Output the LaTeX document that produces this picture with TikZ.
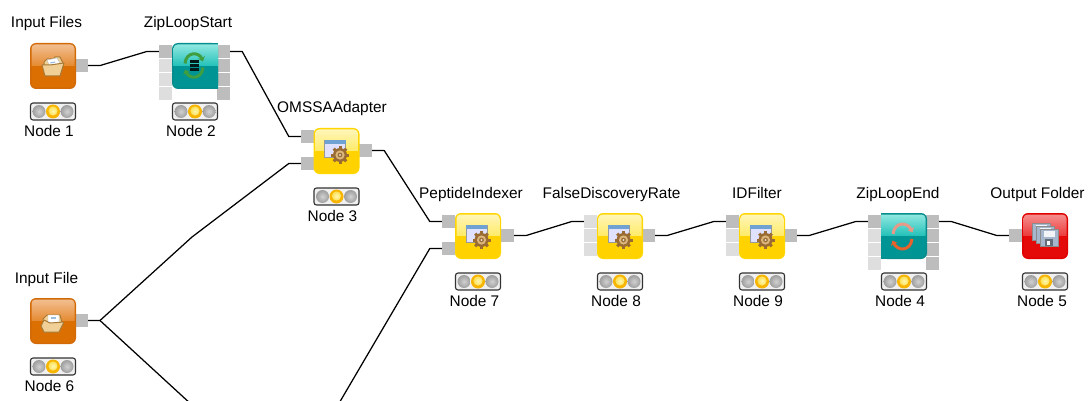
\documentclass[tikz,border=0pt]{standalone}
\usepackage{fontspec}
\setmainfont{Liberation Sans}
\usetikzlibrary{calc,arrows.meta}
\definecolor{orangeE}{HTML}{D26A08}\definecolor{orangeT}{HTML}{F2BE90}\definecolor{orangeM}{HTML}{E58A30}\definecolor{orangeB}{HTML}{DC6F02}
\definecolor{yellowE}{HTML}{FFD600}\definecolor{yellowT}{HTML}{FFF6B8}\definecolor{yellowM}{HTML}{FFEA66}\definecolor{yellowB}{HTML}{FFD200}
\definecolor{redE}{HTML}{E00000}\definecolor{redT}{HTML}{F58E8E}\definecolor{redM}{HTML}{EC3A3A}\definecolor{redB}{HTML}{E40A0A}
\definecolor{tealE}{HTML}{078D8D}\definecolor{tealT}{HTML}{8FE8E0}\definecolor{tealM}{HTML}{22C0B8}\definecolor{tealB}{HTML}{009494}
\definecolor{portdark}{HTML}{BDBDBD}\definecolor{portpale}{HTML}{DEDEDE}
\definecolor{foldline}{HTML}{A87A38}\definecolor{foldfill}{HTML}{F0D096}
\definecolor{gearc}{HTML}{9A6C34}\definecolor{winblue}{HTML}{6FA2D2}\definecolor{floppy}{HTML}{A6B6CC}
\definecolor{loopgreen}{HTML}{3F9E3F}\definecolor{looppale}{HTML}{E89A88}\definecolor{looporange}{HTML}{E8622C}
\definecolor{lampring}{HTML}{F7B500}\definecolor{lampcore}{HTML}{FFF27A}
\tikzset{
  x=1pt,y=-1pt,
  kport/.style={rectangle,minimum width=13pt,minimum height=13pt,inner sep=0pt,fill=portdark},
  kpale/.style={kport,fill=portpale},
  kwire/.style={draw=black,line width=1.25pt,line join=round},
  kbody/.style={rectangle,rounded corners=6pt,minimum width=46pt,minimum height=46pt,inner sep=0pt},
  ktext/.style={anchor=base,inner sep=0pt,font=\fontsize{15.4}{18}\selectfont,text=black},
  kstatus/.style={rectangle,rounded corners=2.5pt,minimum width=45pt,minimum height=17pt,inner sep=0pt,draw=black!80,line width=1.1pt,fill=black!6},
  kfold/.style={draw=foldline,line width=1pt,fill=foldfill,line join=round},
  kbar/.style={line width=3pt,line cap=butt},
  karc/.style={line width=3pt,-{Stealth[length=4.5pt,width=7.5pt]}}
}
% name, cx, cy, palette, title x, title, label x, label
\newcommand\kparts[8]{%
  \node[ktext] (#1-title) at (#5,#3-38) {#6};
  \node[ktext] (#1-label) at (#7,#3+70.5) {#8};
  \node[kstatus] (#1-light) at (#2,#3+45.5) {};
  \shade[inner color=black!18,outer color=black!38] (#2-14,#3+45.5) circle (6.5);
  \shade[inner color=black!18,outer color=black!38] (#2+14,#3+45.5) circle (6.5);
  \fill[lampring] (#2,#3+45.5) circle (7);
  \shade[inner color=lampcore!60!white,outer color=lampcore!70!lampring] (#2,#3+45) circle (4.6);
}
\newcommand\kbodyround[4]{%
  \node[kbody,fill=#4E] (#1) at (#2,#3) {};
  \shade[top color=#4T,bottom color=#4M] (#2-21.5,#3) [rounded corners=4pt] -- (#2-21.5,#3-21.5) -- (#2+21.5,#3-21.5) [sharp corners] -- (#2+21.5,#3) -- cycle;
  \fill[#4B] (#2-21.5,#3) rectangle (#2+21.5,#3+6);
  \fill[#4B,rounded corners=4pt] (#2-21.5,#3+2) rectangle (#2+21.5,#3+21.5);
}
% loop bodies: side = -1 keeps round corners on the left, +1 on the right
\newcommand\kbodyloop[4]{%
  \node[kbody,fill=tealE] (#1) at (#2,#3) {};
  \fill[tealE] (#2,#3-23) rectangle (#2-#4*23,#3+23);
  \shade[top color=tealT,bottom color=tealM] (#2-#4*23,#3) -- (#2-#4*23,#3-21.5) [rounded corners=4pt] -- (#2+#4*21.5,#3-21.5) [sharp corners] -- (#2+#4*21.5,#3) -- cycle;
  \fill[tealB] (#2-#4*23,#3) rectangle (#2+#4*21.5,#3+6);
  \fill[tealB] (#2-#4*23,#3+2) [rounded corners=4pt] -- (#2+#4*21.5,#3+2) -- (#2+#4*21.5,#3+21.5) [sharp corners] -- (#2-#4*23,#3+21.5) -- cycle;
}
\newcommand\kgear[2]{%
  \begin{scope}[shift={(#1,#2)}]
    \filldraw[draw=black!40,fill=white!88!blue,line width=0.6pt] (-12,-11) rectangle (9,6);
    \fill[winblue] (-12,-11) rectangle (9,-7.5);
    \foreach \a in {0,45,...,315}{\fill[gearc,rotate around={\a:(3.5,4)}] (2,-5) rectangle (5,-2);}
    \fill[gearc] (3.5,4) circle (7);
    \fill[foldfill!75!gearc] (3.5,4) circle (4.6);
    \fill[gearc] (3.5,4) circle (2.4);
    \fill[white!75!gearc] (3.5,4) circle (1.1);
  \end{scope}
}
\newcommand\kfloppy[2]{%
  \filldraw[draw=black!45,fill=floppy,line width=0.6pt,shift={(#1,#2)}] (0,0) rectangle (18,17);
  \fill[white!85!floppy,shift={(#1,#2)}] (3.5,1.5) rectangle (14.5,7.5);
  \fill[black!40!floppy,shift={(#1,#2)}] (5,10) rectangle (13,17);
  \fill[white!90!floppy,shift={(#1,#2)}] (7,11.5) rectangle (10,15.5);
}
\begin{document}
\begin{tikzpicture}
\path[use as bounding box,clip] (0,0) rectangle (1089,401);

% ports
\node[kport] (n1o) at (81.5,65.5) {};
\node[kport] (n2i1) at (165.5,51.5) {};
\node[kpale] (n2i2) at (165.5,65.5) {};
\node[kpale] (n2i3) at (165.5,79.5) {};
\node[kpale] (n2i4) at (165.5,93.5) {};
\node[kport] (n2o1) at (223.5,51.5) {};
\node[kport] (n2o2) at (223.5,65.5) {};
\node[kport] (n2o3) at (223.5,79.5) {};
\node[kport] (n2o4) at (223.5,93.5) {};
\node[kport] (n3i1) at (307.5,136.5) {};
\node[kport] (n3i2) at (307.5,163.5) {};
\node[kport] (n3o) at (365.5,150.5) {};
\node[kport] (n7i1) at (448.5,221.5) {};
\node[kport] (n7i2) at (448.5,248.5) {};
\node[kport] (n7o) at (507.5,235.5) {};
\node[kpale] (n8i1) at (590.5,221.5) {};
\node[kpale] (n8i2) at (590.5,235.5) {};
\node[kpale] (n8i3) at (590.5,249.5) {};
\node[kport] (n8o) at (648.5,235.5) {};
\node[kport] (n9i1) at (732.5,221.5) {};
\node[kpale] (n9i2) at (732.5,235.5) {};
\node[kpale] (n9i3) at (732.5,249.5) {};
\node[kport] (n9o) at (790.5,235.5) {};
\node[kport] (n4i1) at (874.5,221.5) {};
\node[kpale] (n4i2) at (874.5,235.5) {};
\node[kpale] (n4i3) at (874.5,249.5) {};
\node[kpale] (n4i4) at (874.5,263.5) {};
\node[kport] (n4o1) at (932.5,221.5) {};
\node[kport] (n4o2) at (932.5,235.5) {};
\node[kport] (n4o3) at (932.5,249.5) {};
\node[kport] (n4o4) at (932.5,263.5) {};
\node[kport] (n5i) at (1015.5,235.5) {};
\node[kport] (n6o) at (81.5,320.5) {};

% bodies
\kbodyround{n1}{53}{66}{orange}
\kbodyloop{n2}{195}{66}{-1}
\kbodyround{n3}{336.5}{151}{yellow}
\kbodyround{n7}{478}{236}{yellow}
\kbodyround{n8}{620}{236}{yellow}
\kbodyround{n9}{762}{236}{yellow}
\kbodyloop{n4}{904}{236}{1}
\kbodyround{n5}{1045}{236}{red}
\kbodyround{n6}{53}{321}{orange}

% texts and status lights
\kparts{a1}{53}{66}{orange}{46.5}{Input Files}{49}{Node 1}
\kparts{a2}{195}{66}{teal}{188}{ZipLoopStart}{191}{Node 2}
\kparts{a3}{336.5}{151}{yellow}{332}{OMSSAAdapter}{332.5}{Node 3}
\kparts{a7}{478}{236}{yellow}{471}{PeptideIndexer}{474.5}{Node 7}
\kparts{a8}{620}{236}{yellow}{611.5}{FalseDiscoveryRate}{616}{Node 8}
\kparts{a9}{762}{236}{yellow}{757}{IDFilter}{758}{Node 9}
\kparts{a4}{904}{236}{teal}{898}{ZipLoopEnd}{900}{Node 4}
\kparts{a5}{1045}{236}{red}{1037.5}{Output Folder}{1042}{Node 5}
\kparts{a6}{53}{321}{orange}{46.5}{Input File}{49.5}{Node 6}

% folder icons
\begin{scope}[shift={(53,66)}]
  \filldraw[kfold] (-9,6) -- (-9,-4) -- (-6,-7) -- (0,-7) -- (2,-9) -- (7,-9) -- (10,-3) -- (9,2) -- cycle;
  \filldraw[fill=white,draw=black!25,line width=0.4pt] (-6,-6) -- (4,-8) -- (8,-1) -- (-3,1) -- cycle;
  \fill[winblue!70] (-3,-3.5) -- (2,-4.5) -- (2.4,-3.5) -- (-2.6,-2.5) -- cycle;
  \filldraw[kfold] (-11,-1) -- (-3,-1) -- (11,-3) -- (7,10) -- (-8,10) -- cycle;
\end{scope}
\begin{scope}[shift={(53,321)}]
  \filldraw[kfold] (-10,-2) -- (-6,-6) -- (7,-6) -- (9,2) -- (-8,6) -- cycle;
  \filldraw[fill=white,draw=black!25,line width=0.4pt] (-5,-6) -- (6,-6) -- (6,2) -- (-5,3) -- cycle;
  \fill[winblue!70] (-2.5,-4) rectangle (3,-2.5);
  \filldraw[kfold] (-12,5) -- (-9,-1) -- (-3,2) -- (11,1) -- (6,11) -- (-9,11) -- cycle;
\end{scope}

% gear icons
\kgear{336.5}{151}
\kgear{478}{236}
\kgear{620}{236}
\kgear{762}{236}

% loop icons
\begin{scope}[shift={(194,65.5)}]
  \draw[karc,draw=loopgreen] (-9,-2) .. controls (-8,-14) and (5,-14) .. (9,-4);
  \draw[karc,draw=loopgreen] (9,2) .. controls (8,14) and (-5,14) .. (-9,4);
  \draw[kbar,draw=black!80!teal] (-4.5,-3.5) -- (4.5,-3.5);
  \draw[kbar,draw=black!80!teal] (-4.5,0.5) -- (4.5,0.5);
  \draw[kbar,draw=black!80!teal] (-4.5,4.5) -- (4.5,4.5);
\end{scope}
\begin{scope}[shift={(902.5,236.5)}]
  \draw[karc,draw=looppale] (-9.5,-2.5) .. controls (-8,-15) and (5,-15) .. (10,-4);
  \draw[karc,draw=looporange] (9.5,2.5) .. controls (8,15) and (-5,15) .. (-10,4);
\end{scope}

% floppy icon
\kfloppy{1032}{223}
\kfloppy{1036}{226}
\kfloppy{1040}{229}

% connectors
\newcommand\kwireto[2]{\draw[kwire] (#1.east) -- ++(12,0) -- ($(#2.west)+(-12,0)$) -- (#2.west);}
\kwireto{n1o}{n2i1}
\kwireto{n2o1}{n3i1}
\kwireto{n3o}{n7i1}
\kwireto{n7o}{n8i1}
\kwireto{n8o}{n9i1}
\kwireto{n9o}{n4i1}
\kwireto{n4o1}{n5i}
\coordinate (split) at (100,320.5);
\coordinate (up) at (192,237);
\coordinate (offa) at (192,405);
\coordinate (offb) at (338,405);
\draw[kwire] (n6o.east) -- (split) -- (up) -- ($(n3i2.west)+(-12,0)$) -- (n3i2.west);
\draw[kwire] (split) -- (offa) -- (offb) -- ($(n7i2.west)+(-12,0)$) -- (n7i2.west);
\end{tikzpicture}
\end{document}
